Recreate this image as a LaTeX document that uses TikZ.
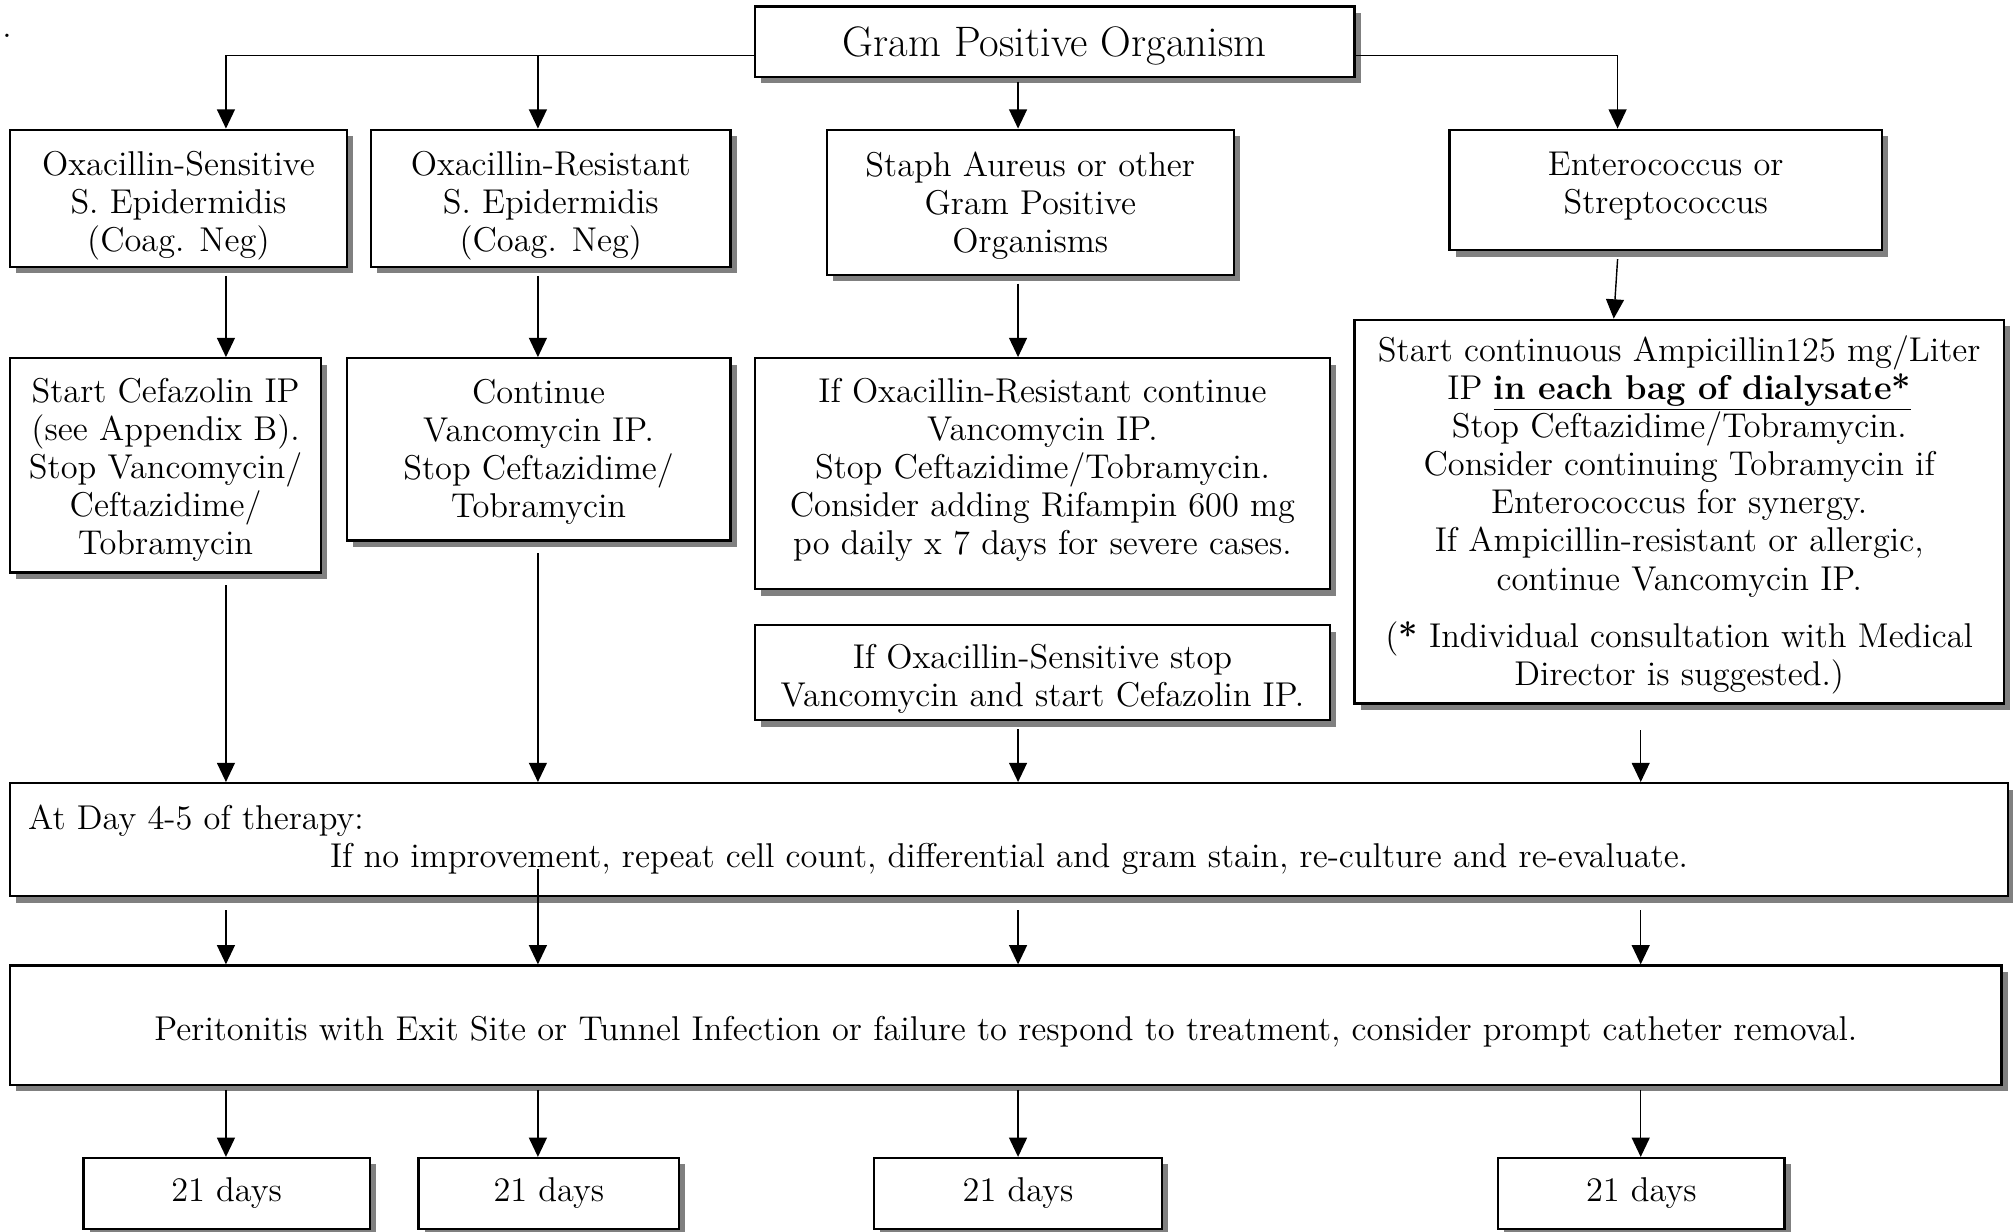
\documentclass[tikz,border=0pt]{standalone}
\usetikzlibrary{arrows.meta,shadows,calc}
\newcommand\myfnt{\fontsize{13.4}{14.85}\selectfont}
\newcommand\myttl{\fontsize{16.6}{19}\selectfont}
\tikzset{
 box/.style={draw, line width=0.85pt, fill=white, align=center, inner sep=0pt, font=\myfnt,
   drop shadow={shadow xshift=2.4pt, shadow yshift=-2.5pt, fill=black!50, opacity=1}},
 txt/.style={align=center, inner sep=0pt, font=\myfnt},
 arr/.style={line width=0.55pt, -{Triangle[length=7.5pt,width=7pt]}},
}
\begin{document}
\begin{tikzpicture}[x=0.5pt,y=-0.5pt]
\useasboundingbox (0,0) rectangle (1568,959);
\node[anchor=base east, inner sep=0pt, font=\myfnt] (dots) at (9.5,29) {..};
% boxes
\node[box, minimum width=233.5pt, minimum height=27.5pt] (gram) at (821.5,32.5) {};
\node[box, minimum width=131pt, minimum height=53.5pt] (os) at (139,154.5) {};
\node[box, minimum width=140pt, minimum height=53.5pt] (or) at (429,154.5) {};
\node[box, minimum width=158.5pt, minimum height=56.5pt] (sa) at (802.5,157.5) {};
\node[box, minimum width=168.5pt, minimum height=47pt] (en) at (1297.5,148) {};
\node[box, minimum width=121pt, minimum height=83.5pt] (cef) at (129,362.5) {};
\node[box, minimum width=149.5pt, minimum height=71pt] (van) at (419.5,350) {};
\node[box, minimum width=224pt, minimum height=90pt] (ores) at (812,369) {};
\node[box, minimum width=224pt, minimum height=37pt] (osens) at (812,524) {};
\node[box, minimum width=253pt, minimum height=149.5pt] (amp) at (1308,398.5) {};
\node[box, minimum width=778pt, minimum height=44pt] (day) at (786,654) {};
\node[box, minimum width=775.5pt, minimum height=46.5pt] (per) at (783.5,798.5) {};
\node[box, minimum width=111.5pt, minimum height=27.5pt] (d1) at (176.5,929.5) {21 days};
\node[box, minimum width=101.5pt, minimum height=27.5pt] (d2) at (427.5,929.5) {21 days};
\node[box, minimum width=112pt, minimum height=27.5pt] (d3) at (793,929.5) {21 days};
\node[box, minimum width=111.5pt, minimum height=27.5pt] (d4) at (1278.5,929.5) {21 days};
% texts
\node[txt, font=\myttl] (gram-t) at (821.5,35.5) {Gram Positive Organism};
\node[txt] (os-t) at (139,160) {Oxacillin-Sensitive\\S. Epidermidis\\(Coag. Neg)};
\node[txt] (or-t) at (429,160) {Oxacillin-Resistant\\S. Epidermidis\\(Coag. Neg)};
\node[txt] (sa-t) at (802.5,160) {Staph Aureus or other\\Gram Positive\\Organisms};
\node[txt] (en-t) at (1297.5,145) {Enterococcus or\\Streptococcus};
\node[txt] (cef-t) at (129,366) {Start Cefazolin IP\\(see Appendix B).\\Stop Vancomycin/\\Ceftazidime/\\Tobramycin};
\node[txt] (van-t) at (419.5,352) {Continue\\Vancomycin IP.\\Stop Ceftazidime/\\Tobramycin};
\node[txt] (ores-t) at (812,366) {If Oxacillin-Resistant continue\\Vancomycin IP.\\Stop Ceftazidime/Tobramycin.\\Consider adding Rifampin 600 mg\\po daily x 7 days for severe cases.};
\node[txt] (osens-t) at (812,528.5) {If Oxacillin-Sensitive stop\\Vancomycin and start Cefazolin IP.};
\node[txt] (amp-t) at (1308,401) {Start continuous Ampicillin125 mg/Liter\\IP \underline{\textbf{in each bag of dialysate*}}\\Stop Ceftazidime/Tobramycin.\\Consider continuing Tobramycin if\\Enterococcus for synergy.\\If Ampicillin-resistant or allergic,\\continue Vancomycin IP.\\[7.5pt](\textbf{*} Individual consultation with Medical\\Director is suggested.)};
\node[txt] (day-t) at (786,654) {\makebox[764pt][l]{At Day 4-5 of therapy:}\\If no improvement, repeat cell count, differential and gram stain, re-culture and re-evaluate.};
\node[txt] (per-t) at (783.5,803.5) {Peritonitis with Exit Site or Tunnel Infection or failure to respond to treatment, consider prompt catheter removal.};
% columns
\coordinate (x1) at (176,0);
\coordinate (x2) at (419,0);
\coordinate (x3) at (793,0);
\coordinate (x4) at (1260,0);
\coordinate (x5) at (1257,0);
\coordinate (x6) at (1278,0);
\coordinate (hl) at ($(gram.west)+(0,10.5)$);
\coordinate (hr) at ($(gram.east)+(0,10.5)$);
% top
\draw[arr] (hl) -| (x1 |- os.north);
\draw[arr] (x2 |- hl) -- (x2 |- or.north);
\draw[arr] ($(x3 |- gram.south)+(0,3)$) -- (x3 |- sa.north);
\draw[arr] (hr) -| (x4 |- en.north);
% second row
\draw[arr] ($(x1 |- os.south)+(0,6)$) -- (x1 |- cef.north);
\draw[arr] ($(x2 |- or.south)+(0,6)$) -- (x2 |- van.north);
\draw[arr] ($(x3 |- sa.south)+(0,6)$) -- (x3 |- ores.north);
\draw[arr] ($(x4 |- en.south)+(0,6)$) -- (x5 |- amp.north);
% to day box
\draw[arr] ($(x1 |- cef.south)+(0,9)$) -- (x1 |- day.north);
\draw[arr] ($(x2 |- van.south)+(0,9)$) -- (x2 |- day.north);
\draw[arr] ($(x3 |- osens.south)+(0,6)$) -- (x3 |- day.north);
\draw[arr] ($(x6 |- amp.south)+(0,20)$) -- (x6 |- day.north);
% day to peritonitis
\draw[arr] ($(x1 |- day.south)+(0,10)$) -- (x1 |- per.north);
\draw[arr] ($(x2 |- day.south)+(0,-22)$) -- (x2 |- per.north);
\draw[arr] ($(x3 |- day.south)+(0,10)$) -- (x3 |- per.north);
\draw[arr] ($(x6 |- day.south)+(0,10)$) -- (x6 |- per.north);
% peritonitis to days
\draw[arr] ($(x1 |- per.south)+(0,3)$) -- (x1 |- d1.north);
\draw[arr] ($(x2 |- per.south)+(0,3)$) -- (x2 |- d2.north);
\draw[arr] ($(x3 |- per.south)+(0,3)$) -- (x3 |- d3.north);
\draw[arr] ($(x6 |- per.south)+(0,3)$) -- (x6 |- d4.north);
\end{tikzpicture}
\end{document}
